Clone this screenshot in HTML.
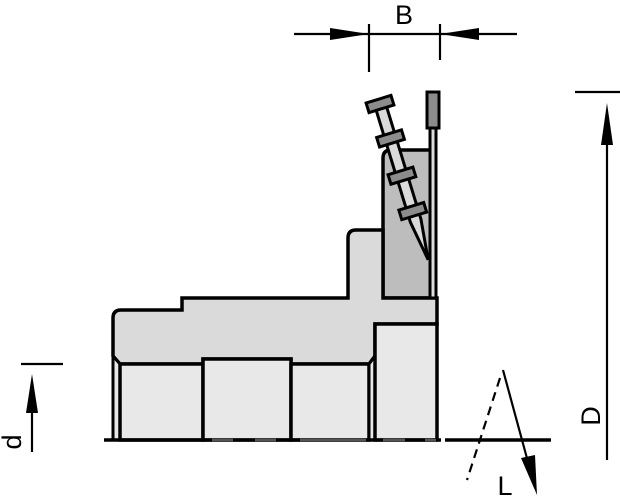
<!DOCTYPE html>
<html><head><meta charset="utf-8"><style>html,body{margin:0;padding:0;background:#fff}svg{display:block}</style></head><body>
<svg width="620" height="500" viewBox="0 0 620 500" xmlns="http://www.w3.org/2000/svg">
<g stroke="#000" stroke-width="3.5" stroke-linejoin="miter">
<path d="M383,298 V158 Q383,150 391,150 H431 V298 Z" fill="#bdbdbd"/>
<path d="M113,356 V318 Q113,310 121,310 H182 V298 H348 V238 Q348,230 356,230 H383 V298 H437 V324 H375 V356 L369,364 H291 V359 H203 V364 H120 Z" fill="#dadada"/>
<path d="M113,356 L120,364 V440 H113 Z" fill="#e8e8e8" stroke-width="3"/>
<rect x="120" y="364" width="83" height="76" fill="#e8e8e8"/>
<rect x="203" y="359" width="88" height="81" fill="#e8e8e8"/>
<rect x="291" y="364" width="78" height="76" fill="#e8e8e8"/>
<path d="M369,364 L375,356 V440 H369 Z" fill="#e8e8e8" stroke-width="3"/>
<rect x="375" y="324" width="62" height="116" fill="#e8e8e8"/>
<rect x="430" y="128" width="6" height="170" fill="#ddd" stroke-width="3"/>
<rect x="427" y="92" width="12" height="36" fill="#8c8c8c" stroke-width="3"/>
<g transform="translate(380,104) rotate(-17)">
<path d="M-5.5,0 V122 L0.5,163 L5.5,122 V0 Z" fill="#dadada" stroke-width="3"/>
<rect x="-13" y="-5" width="26" height="10" fill="#8c8c8c" stroke-width="3"/>
<rect x="-13" y="31" width="26" height="10" fill="#8c8c8c" stroke-width="3"/>
<rect x="-13" y="70" width="26" height="10" fill="#8c8c8c" stroke-width="3"/>
<rect x="-13" y="107" width="26" height="10" fill="#8c8c8c" stroke-width="3"/>
</g>
</g>
<line x1="105" y1="440" x2="440" y2="440" stroke="#aaa" stroke-width="1"/>
<g stroke="#000" stroke-width="3.5">
<line x1="104" y1="440" x2="212" y2="440"/>
<line x1="233" y1="440" x2="255" y2="440"/>
<line x1="276" y1="440" x2="300" y2="440"/>
<line x1="366" y1="440" x2="383" y2="440"/>
<line x1="405" y1="440" x2="425" y2="440"/>
<line x1="436" y1="440" x2="441" y2="440"/>
<line x1="445" y1="440" x2="551" y2="440"/>
</g>
<g stroke="#000" stroke-width="2.2">
<line x1="294" y1="34" x2="517" y2="34"/>
<line x1="369" y1="24" x2="369" y2="72"/>
<line x1="440" y1="24" x2="440" y2="60"/>
<line x1="21" y1="364" x2="63" y2="364"/>
<line x1="32" y1="400" x2="32" y2="452"/>
<line x1="575" y1="92" x2="620" y2="92"/>
<line x1="607" y1="130" x2="607" y2="460"/>
<line x1="503" y1="370" x2="528" y2="462"/>
<line x1="500" y1="378" x2="467" y2="480" stroke-dasharray="9,6"/>
</g>
<polygon points="330,28 369,34 330,40" fill="#000"/>
<polygon points="479,28 440,34 479,40" fill="#000"/>
<polygon points="32,374 26,413 38,413" fill="#000"/>
<polygon points="607,103 601,145 613,145" fill="#000"/>
<polygon points="537,495 521,458 535,455" fill="#000"/>
<g font-family="Liberation Sans, sans-serif" font-size="27" fill="#000">
<text x="404" y="24" text-anchor="middle">B</text>
<text x="505" y="495" text-anchor="middle">L</text>
<text transform="translate(600,416) rotate(-90)" text-anchor="middle">D</text>
<text transform="translate(21,442) rotate(-90)" text-anchor="middle">d</text>
</g>
</svg>
</body></html>
